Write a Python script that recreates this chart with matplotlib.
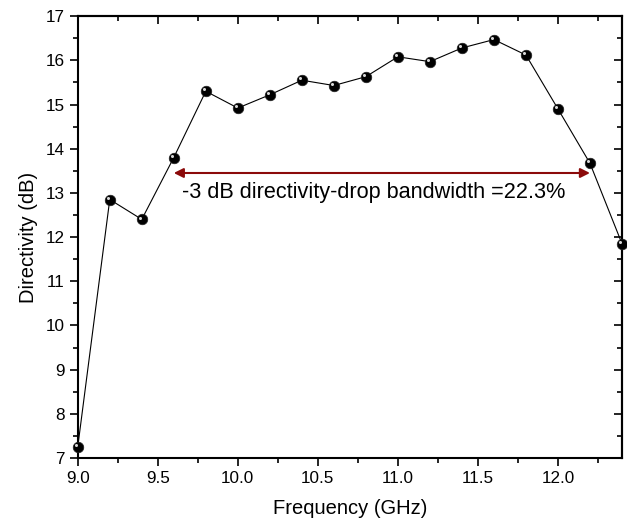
import matplotlib
matplotlib.use("Agg")
import matplotlib.pyplot as plt
import matplotlib.transforms as mtransforms
from matplotlib.ticker import MultipleLocator

plt.rcParams['font.family'] = ['Liberation Sans', 'DejaVu Sans']

# data
freq = [9.0, 9.2, 9.4, 9.6, 9.8, 10.0, 10.2, 10.4, 10.6, 10.8,
        11.0, 11.2, 11.4, 11.6, 11.8, 12.0, 12.2, 12.4]
directivity = [7.25, 12.85, 12.4, 13.8, 15.3, 14.92, 15.22, 15.55, 15.43, 15.63,
               16.08, 15.97, 16.28, 16.47, 16.12, 14.9, 13.67, 11.85]
band_start = 9.6
band_end = 12.2
band_level = 13.45
band_text = "-3 dB directivity-drop bandwidth =22.3%"

fig = plt.figure(figsize=(6.27, 5.21), dpi=100)
ax = fig.add_axes([0.124, 0.121, 0.868, 0.848])

ax.plot(freq, directivity, color='black', lw=0.8, clip_on=False, zorder=3)
ax.plot(freq, directivity, 'o', ms=7.6, color='black', mec='#222222', mew=0.5,
        clip_on=False, zorder=4)
# small highlight to mimic the shaded spheres
shift = mtransforms.ScaledTranslation(-1.2 / 72, 1.3 / 72, fig.dpi_scale_trans)
ax.plot(freq, directivity, 'o', ms=2.2, color='#d8d8d8', mew=0,
        transform=ax.transData + shift, clip_on=False, zorder=5)

ax.annotate('', xy=(band_start, band_level), xytext=(band_end, band_level),
            arrowprops=dict(arrowstyle='<|-|>', color='#8b0a0a', lw=1.5,
                            mutation_scale=14, shrinkA=0, shrinkB=0))
ax.text(9.65, 13.0, band_text, fontsize=15.6, va='center', ha='left')

ax.set_xlim(9.0, 12.4)
ax.set_ylim(7, 17)
ax.xaxis.set_major_locator(MultipleLocator(0.5))
ax.xaxis.set_minor_locator(MultipleLocator(0.25))
ax.yaxis.set_major_locator(MultipleLocator(1))
ax.yaxis.set_minor_locator(MultipleLocator(0.5))
ax.xaxis.set_major_formatter(matplotlib.ticker.FormatStrFormatter('%.1f'))

ax.tick_params(which='both', direction='out', labelsize=12.3, width=1.2)
ax.tick_params(which='major', length=6)
ax.tick_params(which='minor', length=3.5)

# inward ticks on top and right, like the original
sec_x = ax.secondary_xaxis('top')
sec_x.xaxis.set_major_locator(MultipleLocator(0.5))
sec_x.xaxis.set_minor_locator(MultipleLocator(0.25))
sec_x.tick_params(which='both', direction='in', labeltop=False, width=1.2)
sec_x.tick_params(which='major', length=6)
sec_x.tick_params(which='minor', length=3.5)
sec_y = ax.secondary_yaxis('right')
sec_y.yaxis.set_major_locator(MultipleLocator(1))
sec_y.yaxis.set_minor_locator(MultipleLocator(0.5))
sec_y.tick_params(which='both', direction='in', labelright=False, width=1.2)
sec_y.tick_params(which='major', length=6)
sec_y.tick_params(which='minor', length=3.5)

for s in ax.spines.values():
    s.set_linewidth(1.5)
sec_x.spines['top'].set_linewidth(1.5)
sec_y.spines['right'].set_linewidth(1.5)

ax.set_xlabel('Frequency (GHz)', fontsize=14.5, labelpad=9)
ax.set_ylabel('Directivity (dB)', fontsize=14.5, labelpad=5)

fig.savefig('out.png', dpi=100)
